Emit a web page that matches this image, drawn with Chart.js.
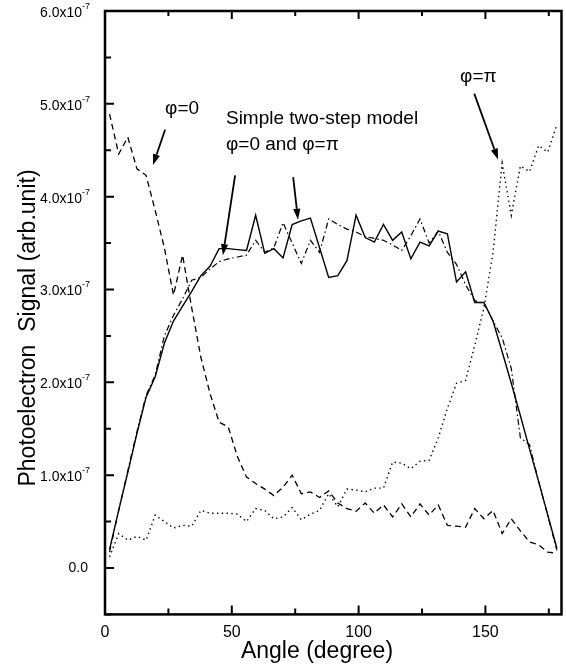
<!DOCTYPE html>
<html><head><meta charset="utf-8">
<script src="https://cdn.jsdelivr.net/npm/chart.js@4"></script>
<style>html,body{margin:0;padding:0;background:#fff}#wrap{width:566px;height:668px;position:relative}</style>
</head><body><div id="wrap"><canvas id="c"></canvas></div>
<script>
// Angle (degree) of each point
const angles = [1.8,5.4,9,12.6,16.2,19.8,23.4,27,30.6,34.2,37.8,41.4,45,48.6,52.2,55.8,59.4,63,66.6,70.2,73.8,77.4,81,84.6,88.2,91.8,95.4,99,102.6,106.2,109.8,113.4,117,120.6,124.2,127.8,131.4,135,138.6,142.2,145.8,149.4,153,156.6,160.2,163.8,167.4,171,174.6,178.2];
// Signal values in units of 1e-7 (arb.unit)
const phi0 = [4.89,4.46,4.64,4.30,4.23,3.85,3.45,2.94,3.37,2.80,2.27,1.88,1.57,1.52,1.20,0.98,0.91,0.85,0.78,0.87,1.00,0.80,0.82,0.76,0.83,0.70,0.64,0.61,0.70,0.59,0.68,0.55,0.69,0.55,0.69,0.57,0.68,0.46,0.45,0.44,0.64,0.53,0.62,0.37,0.53,0.40,0.28,0.25,0.17,0.16];
const phiPi = [0.12,0.37,0.30,0.34,0.30,0.57,0.50,0.43,0.46,0.45,0.62,0.59,0.59,0.59,0.58,0.50,0.64,0.62,0.53,0.55,0.65,0.52,0.58,0.62,0.80,0.66,0.85,0.84,0.82,0.86,0.86,1.14,1.13,1.07,1.15,1.16,1.40,1.72,1.99,2.02,2.40,2.80,3.40,4.36,3.80,4.33,4.27,4.55,4.48,4.78];
const modelA = [0.20,0.62,1.03,1.45,1.84,2.06,2.42,2.66,2.82,2.98,3.15,3.25,3.44,3.44,3.43,3.42,3.80,3.39,3.44,3.34,3.70,3.74,3.77,3.45,3.13,3.15,3.31,3.80,3.56,3.51,3.70,3.53,3.62,3.33,3.51,3.47,3.63,3.60,3.08,3.19,2.86,2.86,2.66,2.33,1.99,1.64,1.28,0.93,0.57,0.21];
const modelB = [0.17,0.62,1.05,1.47,1.86,2.08,2.50,2.72,2.90,3.10,3.13,3.22,3.30,3.33,3.35,3.37,3.53,3.40,3.45,3.72,3.50,3.28,3.53,3.40,3.76,3.70,3.65,3.62,3.57,3.55,3.53,3.48,3.42,3.58,3.76,3.50,3.63,3.40,3.27,3.05,2.88,2.85,2.66,2.48,2.15,1.40,1.33,0.93,0.56,0.19];
// Ticks
const xTickValues = [0,50,100,150];
const xTickLabels = ["0","50","100","150"];
const xMinorTicks = [25,75,125,175];
const yTickValues = [0,1,2,3,4,5,6];
const yTickLabels = ["0.0","1.0x10","2.0x10","3.0x10","4.0x10","5.0x10","6.0x10"];
const yTickExponents = ["","-7","-7","-7","-7","-7","-7"];
const yMinorTicks = [-0.5,0.5,1.5,2.5,3.5,4.5,5.5];
const xTitle = "Angle (degree)";
const yTitle = "Photoelectron  Signal (arb.unit)";
// Annotations (anchored in data coordinates)
const annoTexts = ["\u03C6=0","Simple two-step model","\u03C6=0 and \u03C6=\u03C0","\u03C6=\u03C0"];
const annoAnchors = [[23.7,4.89],[47.7,4.78],[47.7,4.50],[140.0,5.24]];
const arrows = [[[23.7,4.72],[18.9,4.34]],[[51.3,4.23],[46.5,3.37]],[[74.2,4.21],[76.1,3.75]],[[145.6,5.11],[155.0,4.40]]];

const FONT = '"Liberation Sans", Arial, Helvetica, sans-serif';
const toPts = arr => angles.map((a,i)=>({x:a,y:arr[i]}));

const decor = {
  id:'decor',
  afterDraw(chart){
    const ctx = chart.ctx, ca = chart.chartArea, xs = chart.scales.x, ys = chart.scales.y;
    ctx.save();
    ctx.strokeStyle = '#000'; ctx.fillStyle = '#000';
    // ticks
    ctx.lineWidth = 2;
    ctx.beginPath();
    xTickValues.forEach(v=>{ if(v<=0) return; const px = xs.getPixelForValue(v);
      ctx.moveTo(px, ca.bottom); ctx.lineTo(px, ca.bottom-9);
      ctx.moveTo(px, ca.top); ctx.lineTo(px, ca.top+8); });
    xMinorTicks.forEach(v=>{ const px = xs.getPixelForValue(v);
      ctx.moveTo(px, ca.bottom); ctx.lineTo(px, ca.bottom-6);
      ctx.moveTo(px, ca.top); ctx.lineTo(px, ca.top+5); });
    yTickValues.forEach(v=>{ const py = ys.getPixelForValue(v);
      ctx.moveTo(ca.left, py); ctx.lineTo(ca.left+9, py); });
    yMinorTicks.forEach(v=>{ const py = ys.getPixelForValue(v);
      ctx.moveTo(ca.left, py); ctx.lineTo(ca.left+6, py); });
    ctx.stroke();
    // frame
    ctx.lineWidth = 2.5;
    ctx.strokeRect(ca.left, ca.top, ca.right-ca.left, ca.bottom-ca.top);
    // x tick labels
    ctx.font = '16px ' + FONT; ctx.textAlign = 'center'; ctx.textBaseline = 'alphabetic';
    xTickValues.forEach((v,i)=>{ ctx.fillText(xTickLabels[i], xs.getPixelForValue(v), ca.bottom+23); });
    // y tick labels with superscript exponent
    yTickValues.forEach((v,i)=>{
      const py = ys.getPixelForValue(v);
      const exp = yTickExponents[i];
      ctx.textBaseline = 'alphabetic';
      if(exp){
        ctx.font = '9px ' + FONT; ctx.textAlign = 'right';
        const ew = ctx.measureText(exp).width;
        const right = ca.left - 15;
        ctx.fillText(exp, right, py - 2);
        ctx.font = '14px ' + FONT;
        ctx.fillText(yTickLabels[i], right - ew, py + 6);
      } else {
        ctx.font = '14px ' + FONT; ctx.textAlign = 'right';
        ctx.fillText(yTickLabels[i], ca.left - 17, py + 4);
      }
    });
    // axis titles
    ctx.font = '23px ' + FONT; ctx.textAlign = 'center'; ctx.textBaseline = 'alphabetic';
    ctx.fillText(xTitle, 317, ca.bottom + 44);
    ctx.save(); ctx.translate(35, 328); ctx.rotate(-Math.PI/2);
    ctx.fillText(yTitle, 0, 0); ctx.restore();
    // annotations
    ctx.font = '19px ' + FONT; ctx.textAlign = 'left'; ctx.textBaseline = 'alphabetic';
    annoTexts.forEach((t,i)=>{ ctx.fillText(t, xs.getPixelForValue(annoAnchors[i][0]), ys.getPixelForValue(annoAnchors[i][1])); });
    arrows.forEach(a=>{
      const x1 = xs.getPixelForValue(a[0][0]), y1 = ys.getPixelForValue(a[0][1]);
      const x2 = xs.getPixelForValue(a[1][0]), y2 = ys.getPixelForValue(a[1][1]);
      const ang = Math.atan2(y2-y1, x2-x1), L = 11, W = 3.6;
      const bx = x2 - L*Math.cos(ang), by = y2 - L*Math.sin(ang);
      ctx.lineWidth = 1.8;
      ctx.beginPath(); ctx.moveTo(x1,y1); ctx.lineTo(bx,by); ctx.stroke();
      ctx.beginPath(); ctx.moveTo(x2,y2);
      ctx.lineTo(bx + W*Math.sin(ang), by - W*Math.cos(ang));
      ctx.lineTo(bx - W*Math.sin(ang), by + W*Math.cos(ang));
      ctx.closePath(); ctx.fill();
    });
    ctx.restore();
  }
};

new Chart(document.getElementById('c'), {
  type:'line',
  data:{ datasets:[
    {label:'\u03C6=0', data:toPts(phi0), borderColor:'#000', borderWidth:1.3, borderDash:[6,4]},
    {label:'\u03C6=\u03C0', data:toPts(phiPi), borderColor:'#000', borderWidth:1.4, borderDash:[1.4,3.4]},
    {label:'Simple two-step model A', data:toPts(modelA), borderColor:'#000', borderWidth:1.4},
    {label:'Simple two-step model B', data:toPts(modelB), borderColor:'#000', borderWidth:1.2, borderDash:[6,3,1.5,3]}
  ]},
  options:{
    animation:false, responsive:true, maintainAspectRatio:false,
    layout:{padding:{left:105, top:11, right:4.5, bottom:53.6}},
    elements:{point:{radius:0}, line:{tension:0, fill:false}},
    scales:{
      x:{type:'linear', min:0, max:180, display:false},
      y:{type:'linear', min:-0.5, max:6, display:false}
    },
    plugins:{legend:{display:false}, tooltip:{enabled:false}}
  },
  plugins:[decor]
});
</script></body></html>
